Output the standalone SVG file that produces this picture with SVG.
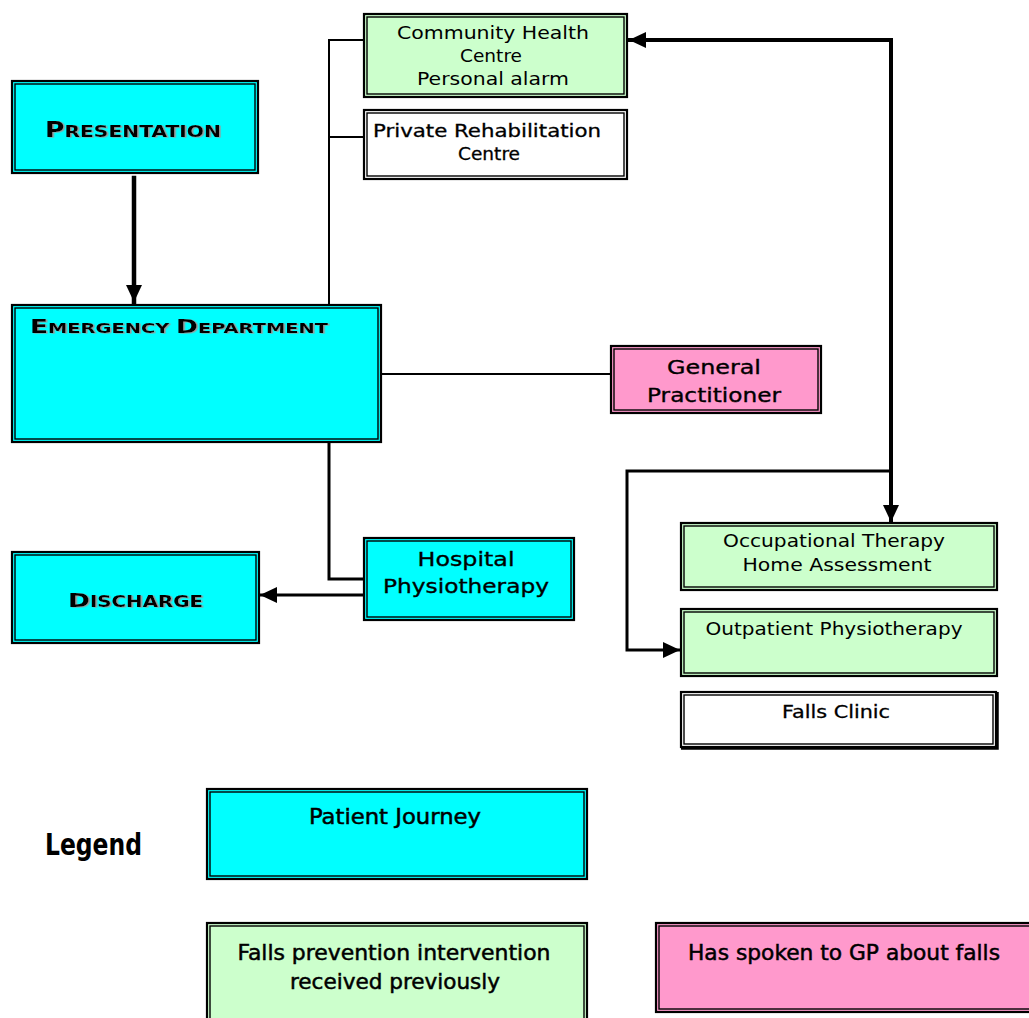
<svg xmlns="http://www.w3.org/2000/svg" width="1029" height="1018" viewBox="0 0 1029 1018">
  <style>
    .frame { stroke: #000; stroke-width: 2.2; }
    .inner { fill: none; stroke: #000; stroke-width: 1.4; }
    .cyan { fill: #00FFFF; }
    .green { fill: #CCFFCC; }
    .pink { fill: #FF99CC; }
    .white { fill: #FFFFFF; }
    .head { font-family: "DejaVu Sans", "Liberation Sans", sans-serif; font-weight: bold; fill: #000; filter: url(#shade); }
    .thin { font-family: "DejaVu Sans", "Liberation Sans", sans-serif; font-size: 17px; fill: #000; text-anchor: middle; }
    .mid { font-family: "DejaVu Sans", "Liberation Sans", sans-serif; font-size: 20px; fill: #000; stroke: #000; stroke-width: 0.35; text-anchor: middle; }
    .key { font-family: "DejaVu Sans Condensed", "DejaVu Sans", "Liberation Sans Narrow", sans-serif; font-size: 21px; fill: #000; stroke: #000; stroke-width: 0.45; text-anchor: middle; }
    .wire { fill: none; stroke: #000; stroke-linejoin: miter; stroke-linecap: square; }
  </style>
  <defs>
    <filter id="shade" x="-5%" y="-20%" width="110%" height="140%">
      <feDropShadow dx="1.6" dy="0.6" stdDeviation="0" flood-color="#9a9a9a" flood-opacity="1"/>
    </filter>
    <marker id="head" markerUnits="userSpaceOnUse" markerWidth="18" markerHeight="16" refX="17" refY="8" orient="auto-start-reverse">
      <path d="M0,0 L17,8 L0,16 Z" fill="#000"/>
    </marker>
  </defs>
  <rect width="1029" height="1018" fill="#FFFFFF"/>

  <!-- connectors -->
  <g id="connectors">
    <line class="wire" x1="134" y1="178" x2="134" y2="302" stroke-width="4.5" marker-end="url(#head)"/>
    <polyline class="wire" points="363,40 329,40 329,304" stroke-width="2"/>
    <line class="wire" x1="329" y1="137" x2="363" y2="137" stroke-width="2"/>
    <line class="wire" x1="382" y1="374" x2="610" y2="374" stroke-width="2"/>
    <polyline class="wire" points="329,443 329,579 363,579" stroke-width="3"/>
    <line class="wire" x1="363" y1="595" x2="260" y2="595" stroke-width="3" stroke-linecap="butt" marker-end="url(#head)"/>
    <polyline class="wire" points="629,40 891,40 891,522" stroke-width="4" stroke-linecap="butt" marker-start="url(#head)" marker-end="url(#head)"/>
    <polyline class="wire" points="891,471 627,471 627,650 680,650" stroke-width="3" stroke-linecap="butt" marker-end="url(#head)"/>
  </g>

  <!-- patient journey -->
  <g id="presentation">
    <rect class="frame cyan" x="12" y="81" width="246" height="92"/>
    <rect class="inner" x="15" y="84" width="240" height="86"/>
    <text class="head" x="45" y="137" textLength="176" lengthAdjust="spacingAndGlyphs"><tspan font-size="21">P</tspan><tspan font-size="16">RESENTATION</tspan></text>
  </g>

  <g id="emergency">
    <rect class="frame cyan" x="12" y="305" width="369" height="137"/>
    <rect class="inner" x="15" y="308" width="363" height="131"/>
    <text class="head" x="30" y="333" textLength="298" lengthAdjust="spacingAndGlyphs"><tspan font-size="19">E</tspan><tspan font-size="14">MERGENCY </tspan><tspan font-size="19">D</tspan><tspan font-size="14">EPARTMENT</tspan></text>
  </g>

  <g id="discharge">
    <rect class="frame cyan" x="12" y="552" width="247" height="91"/>
    <rect class="inner" x="15" y="555" width="241" height="85"/>
    <text class="head" x="68" y="607" textLength="135" lengthAdjust="spacingAndGlyphs"><tspan font-size="20">D</tspan><tspan font-size="15">ISCHARGE</tspan></text>
  </g>

  <g id="hospital-physiotherapy">
    <rect class="frame cyan" x="364" y="538" width="210" height="82"/>
    <rect class="inner" x="367" y="541" width="204" height="76"/>
    <text class="mid" x="466" y="566" textLength="97" lengthAdjust="spacingAndGlyphs">Hospital</text>
    <text class="mid" x="466" y="593" textLength="166" lengthAdjust="spacingAndGlyphs">Physiotherapy</text>
  </g>

  <!-- services -->
  <g id="community-health">
    <rect class="frame green" x="364" y="14" width="263" height="83"/>
    <rect class="inner" x="367" y="17" width="257" height="77"/>
    <text class="thin" x="493" y="39" textLength="192" lengthAdjust="spacingAndGlyphs">Community Health</text>
    <text class="thin" x="491" y="62" textLength="62" lengthAdjust="spacingAndGlyphs">Centre</text>
    <text class="thin" x="493" y="85" textLength="152" lengthAdjust="spacingAndGlyphs">Personal alarm</text>
  </g>

  <g id="private-rehabilitation">
    <rect class="frame white" x="364" y="110" width="263" height="69"/>
    <rect class="inner" x="367" y="113" width="257" height="63"/>
    <text class="thin" x="487" y="137" stroke="#000" stroke-width="0.3" textLength="228" lengthAdjust="spacingAndGlyphs">Private Rehabilitation</text>
    <text class="thin" x="489" y="160" stroke="#000" stroke-width="0.3" textLength="62" lengthAdjust="spacingAndGlyphs">Centre</text>
  </g>

  <g id="general-practitioner">
    <rect class="frame pink" x="611" y="346" width="210" height="67"/>
    <rect class="inner" x="614" y="349" width="204" height="61"/>
    <text class="mid" x="714" y="374" textLength="94" lengthAdjust="spacingAndGlyphs">General</text>
    <text class="mid" x="714" y="402" textLength="134" lengthAdjust="spacingAndGlyphs">Practitioner</text>
  </g>

  <g id="occupational-therapy">
    <rect class="frame green" x="681" y="523" width="316" height="67"/>
    <rect class="inner" x="684" y="526" width="310" height="61"/>
    <text class="thin" x="834" y="547" textLength="222" lengthAdjust="spacingAndGlyphs">Occupational Therapy</text>
    <text class="thin" x="837" y="571" textLength="189" lengthAdjust="spacingAndGlyphs">Home Assessment</text>
  </g>

  <g id="outpatient-physiotherapy">
    <rect class="frame green" x="681" y="609" width="316" height="67"/>
    <rect class="inner" x="684" y="612" width="310" height="61"/>
    <text class="thin" x="834" y="635" textLength="257" lengthAdjust="spacingAndGlyphs">Outpatient Physiotherapy</text>
  </g>

  <g id="falls-clinic">
    <rect class="frame white" x="681" y="692" width="315" height="55"/>
    <polyline points="997,692 997,748 681,748" fill="none" stroke="#000" stroke-width="3.5"/>
    <rect class="inner" x="684" y="695" width="309" height="49"/>
    <text class="thin" x="836" y="718" stroke="#000" stroke-width="0.3" textLength="108" lengthAdjust="spacingAndGlyphs">Falls Clinic</text>
  </g>

  <!-- legend -->
  <g id="legend-title">
    <text x="45" y="855" font-family="DejaVu Sans Condensed, DejaVu Sans, Liberation Sans Narrow, sans-serif" font-weight="bold" font-size="31" fill="#000" textLength="97" lengthAdjust="spacingAndGlyphs">Legend</text>
  </g>

  <g id="legend-journey">
    <rect class="frame cyan" x="207" y="789" width="380" height="90"/>
    <rect class="inner" x="210" y="792" width="374" height="84"/>
    <text class="key" x="395" y="824" textLength="172" lengthAdjust="spacingAndGlyphs">Patient Journey</text>
  </g>

  <g id="legend-prevention">
    <rect class="frame green" x="207" y="923" width="380" height="100"/>
    <rect class="inner" x="210" y="926" width="374" height="100"/>
    <text class="key" x="394" y="960" textLength="313" lengthAdjust="spacingAndGlyphs">Falls prevention intervention</text>
    <text class="key" x="395" y="989" textLength="210" lengthAdjust="spacingAndGlyphs">received previously</text>
  </g>

  <g id="legend-gp">
    <rect class="frame pink" x="656" y="923" width="380" height="89"/>
    <rect class="inner" x="659" y="926" width="380" height="83"/>
    <text class="key" x="844" y="960" textLength="312" lengthAdjust="spacingAndGlyphs">Has spoken to GP about falls</text>
  </g>
</svg>
